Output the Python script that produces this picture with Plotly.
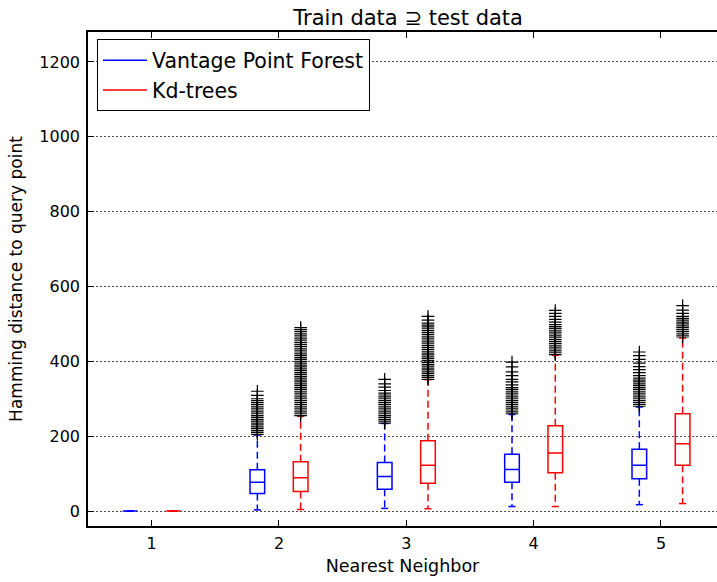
import plotly.graph_objects as go

# ---------------- data ----------------
groups = [1, 2, 3, 4, 5]
tick_labels = ["1", "2", "3", "4", "5"]
series_names = ["Vantage Point Forest", "Kd-trees"]

vpf_q1 = [0, 47, 58, 77, 86]
vpf_med = [0, 77, 92, 111, 122]
vpf_q3 = [0, 110, 130, 152, 165]
vpf_lo = [0, 3, 7, 12, 17]
vpf_hi = [0, 203, 234, 258, 278]

kd_q1 = [0, 52, 74, 102, 122]
kd_med = [0, 89, 122, 155, 180]
kd_q3 = [0, 132, 188, 228, 260]
kd_lo = [0, 4, 6, 12, 20]
kd_hi = [0, 253, 351, 416, 462]

vpf_out = [
    [],
    [205, 210, 215, 220, 225, 230, 235, 240, 245, 250, 255, 260, 265, 270, 275, 280, 285, 290, 295, 300, 309, 320],
    [235, 240, 245, 250, 255, 260, 265, 270, 275, 280, 285, 290, 295, 300, 305, 310, 315, 322, 331, 340, 352],
    [260, 265, 270, 275, 280, 285, 290, 295, 300, 305, 310, 315, 320, 325, 330, 337, 345, 352, 362, 372, 385, 398],
    [280, 285, 290, 295, 300, 305, 310, 315, 320, 325, 330, 335, 340, 345, 350, 355, 362, 370, 378, 386, 395, 405, 415, 425],
]
kd_out = [
    [],
    [255, 260, 265, 270, 275, 280, 285, 290, 295, 300, 305, 310, 315, 320, 325, 330, 335, 340, 345, 350,
     355, 360, 365, 370, 375, 380, 385, 390, 395, 400, 405, 410, 415, 420, 425, 430, 435, 440, 445, 450,
     455, 460, 465, 470, 475, 480, 485, 490],
    [352, 357, 362, 367, 372, 377, 382, 387, 392, 397, 402, 407, 412, 417, 422, 427, 432, 437, 442, 447,
     452, 457, 462, 467, 472, 477, 482, 487, 492, 497, 502, 510, 520],
    [418, 423, 428, 433, 438, 443, 448, 453, 458, 463, 468, 473, 478, 483, 488, 493, 498, 505, 512, 520, 528, 536],
    [465, 470, 475, 480, 485, 490, 495, 500, 505, 510, 515, 520, 528, 537, 549],
]

# ---------------- style ----------------
OFFSET = 0.17
BOX_W = 0.115
CAP_HALF = 0.028
FONT = "DejaVu Sans"

fig = go.Figure()


def add_series(name, color, offset, q1, med, q3, lo, hi, outs):
    pos = [g + offset for g in groups]
    fig.add_trace(go.Box(
        x=pos, q1=q1, median=med, q3=q3, lowerfence=q1, upperfence=q3,
        width=BOX_W, whiskerwidth=0, line=dict(color=color, width=1.5),
        fillcolor="rgba(0,0,0,0)", showlegend=False, boxpoints=False,
        hoverinfo="skip",
    ))
    wx, wy, cx, cy = [], [], [], []
    for p, a, b, l, h in zip(pos, q1, q3, lo, hi):
        wx += [p, p, None, p, p, None]
        wy += [b, h, None, a, l, None]
        cx += [p - CAP_HALF, p + CAP_HALF, None, p - CAP_HALF, p + CAP_HALF, None]
        cy += [h, h, None, l, l, None]
    fig.add_trace(go.Scatter(x=wx, y=wy, mode="lines",
                             line=dict(color=color, width=1.5, dash="7px,4px"),
                             showlegend=False, hoverinfo="skip"))
    fig.add_trace(go.Scatter(x=cx, y=cy, mode="lines",
                             line=dict(color=color, width=1.5),
                             showlegend=False, hoverinfo="skip"))
    ox, oy = [], []
    for p, vals in zip(pos, outs):
        ox += [p] * len(vals)
        oy += vals
    fig.add_trace(go.Scatter(x=ox, y=oy, mode="markers",
                             marker=dict(symbol="cross-thin", size=9,
                                         line=dict(color="black", width=1.2)),
                             showlegend=False, hoverinfo="skip"))
    # legend entry
    fig.add_trace(go.Scatter(x=[None], y=[None], mode="lines", name=name,
                             line=dict(color=color, width=1.5),
                             legendgroup=name, showlegend=True))


add_series(series_names[0], "#0000ff", -OFFSET, vpf_q1, vpf_med, vpf_q3, vpf_lo, vpf_hi, vpf_out)
add_series(series_names[1], "#ff0000", OFFSET, kd_q1, kd_med, kd_q3, kd_lo, kd_hi, kd_out)

fig.update_layout(
    width=717, height=582, autosize=False,
    margin=dict(l=88, r=0, t=32, b=56),
    paper_bgcolor="white", plot_bgcolor="white",
    font=dict(family=FONT, size=16, color="black"),
    title=dict(text="Train data ⊇ test data", x=0.509, xref="paper",
               xanchor="center", y=1 - 18 / 582, yanchor="middle",
               font=dict(size=21)),
    showlegend=True,
    legend=dict(x=0.0143, y=0.985, xanchor="left", yanchor="top",
                bordercolor="black", borderwidth=1, bgcolor="white",
                font=dict(size=20.5), tracegroupgap=0, traceorder="grouped",
                itemwidth=44),
    boxmode="overlay",
)
fig.update_xaxes(
    range=[0.5, 5.44], tickmode="array", tickvals=groups, ticktext=tick_labels,
    ticks="inside", ticklen=6, tickcolor="black", showline=True, linecolor="black",
    linewidth=1.5, mirror="ticks", showgrid=False, zeroline=False,
    tickfont=dict(size=16), ticklabelstandoff=2,
    title=dict(text="Nearest Neighbor", font=dict(size=17.5), standoff=8),
)
fig.update_yaxes(
    range=[-40, 1280], tickmode="array", tickvals=[0, 200, 400, 600, 800, 1000, 1200],
    ticks="inside", ticklen=6, tickcolor="black", showline=True, linecolor="black",
    linewidth=1.5, mirror=False, showgrid=True, gridcolor="rgba(0,0,0,0.7)",
    griddash="1.5px,2.5px", gridwidth=1, zeroline=False, tickfont=dict(size=16),
    ticklabelstandoff=3,
    title=dict(text="Hamming distance to query point", font=dict(size=17), standoff=12),
)

fig.write_html("out.html")
